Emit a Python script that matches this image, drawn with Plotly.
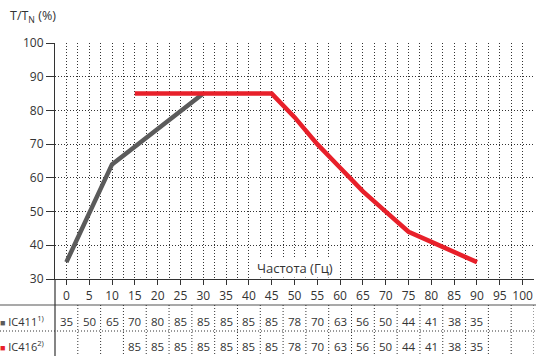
import plotly.graph_objects as go

# ---- data ----
freq_ticks = [0, 5, 10, 15, 20, 25, 30, 35, 40, 45, 50, 55, 60, 65, 70, 75, 80, 85, 90, 95, 100]
y_ticks = [30, 40, 50, 60, 70, 80, 90, 100]

# plotted curves
ic411_curve_x = [0, 10, 30]
ic411_curve_y = [35, 64, 85]
ic416_x = [15, 20, 25, 30, 35, 40, 45, 50, 55, 60, 65, 70, 75, 80, 85, 90]
ic416_y = [85, 85, 85, 85, 85, 85, 85, 78, 70, 63, 56, 50, 44, 41, 38, 35]

# table rows
ic411_table_x = [0, 5, 10, 15, 20, 25, 30, 35, 40, 45, 50, 55, 60, 65, 70, 75, 80, 85, 90]
ic411_table_v = [35, 50, 65, 70, 80, 85, 85, 85, 85, 85, 78, 70, 63, 56, 50, 44, 41, 38, 35]
ic416_table_x = ic416_x
ic416_table_v = ic416_y

row_labels = ["IC411<sup>1)</sup>", "IC416<sup>2)</sup>"]
x_title = "Частота (Гц)"
y_title = "T/T<sub>N</sub> (%)"

GRAY = "#5b5b5b"
RED = "#e8202a"
TXT = "#333333"
FONT = "Open Sans"
DOT = "1px,2px"
GRID = "#333333"

W, H = 536, 356
ML, MR, MT, MB = 55, 2, 43, 77
PW = W - ML - MR
PH = H - MT - MB


def py2paper(py):
    return (H - MB - py) / PH


def px2paper(px):
    return (px - ML) / PW


fig = go.Figure()
fig.add_trace(go.Scatter(x=ic411_curve_x, y=ic411_curve_y, mode="lines",
                         line=dict(color=GRAY, width=4.5), showlegend=False, hoverinfo="skip"))
fig.add_trace(go.Scatter(x=ic416_x, y=ic416_y, mode="lines",
                         line=dict(color=RED, width=4.5), showlegend=False, hoverinfo="skip"))

shapes = []
# solid line under tick row
shapes.append(dict(type="line", xref="paper", yref="paper", x0=px2paper(0), x1=px2paper(W),
                   y0=py2paper(305), y1=py2paper(305), line=dict(color="#555", width=1.2)))
# dotted row separator
shapes.append(dict(type="line", xref="paper", yref="paper", x0=px2paper(0), x1=px2paper(W),
                   y0=py2paper(331), y1=py2paper(331), line=dict(color=GRID, width=1, dash=DOT)))
# y axis line continues down
shapes.append(dict(type="line", xref="paper", yref="paper", x0=0, x1=0,
                   y0=0, y1=py2paper(H + 2), line=dict(color="#333", width=1.2)))
# table column separators
for t in freq_ticks:
    shapes.append(dict(type="line", xref="x", yref="paper", x0=t + 2.5, x1=t + 2.5,
                       y0=py2paper(305), y1=py2paper(H + 2), line=dict(color=GRID, width=1, dash=DOT)))

annotations = []
row_y = [py2paper(321), py2paper(346)]
for xs, vs, ry in [(ic411_table_x, ic411_table_v, row_y[0]), (ic416_table_x, ic416_table_v, row_y[1])]:
    for xv, v in zip(xs, vs):
        annotations.append(dict(x=xv, y=ry, xref="x", yref="paper", text=str(v), showarrow=False,
                                font=dict(size=11.5, color=TXT, family=FONT), xanchor="center", yanchor="middle"))
for lab, col, ry in [(row_labels[0], GRAY, row_y[0]), (row_labels[1], RED, row_y[1])]:
    annotations.append(dict(x=px2paper(-2), y=ry, xref="paper", yref="paper",
                            text=f"<span style='color:{col};font-size:9px'>■</span> {lab}",
                            showarrow=False, font=dict(size=11, color=TXT, family=FONT),
                            xanchor="left", yanchor="middle"))
annotations.append(dict(x=50, y=33.4, xref="x", yref="y", text=x_title, showarrow=False,
                        bgcolor="white", font=dict(size=13, color=TXT, family=FONT),
                        xanchor="center", yanchor="middle", borderpad=0))
annotations.append(dict(x=px2paper(8), y=py2paper(16), xref="paper", yref="paper", text=y_title,
                        showarrow=False, font=dict(size=12.5, color=TXT, family=FONT),
                        xanchor="left", yanchor="middle"))

fig.update_layout(
    width=W, height=H, margin=dict(l=ML, r=MR, t=MT, b=MB),
    paper_bgcolor="white", plot_bgcolor="white",
    font=dict(family=FONT, size=11, color=TXT),
    shapes=shapes, annotations=annotations, showlegend=False,
    xaxis=dict(range=[-2.5, 102.5], tickvals=freq_ticks, ticktext=[str(t) for t in freq_ticks],
               showgrid=True, gridcolor=GRID, griddash=DOT, gridwidth=1,
               minor=dict(dtick=2.5, tick0=0, showgrid=True, gridcolor=GRID, griddash=DOT, gridwidth=1),
               showline=True, linecolor="#333", linewidth=1.2,
               ticks="outside", ticklen=5, tickcolor="#333", tickfont=dict(size=12, color=TXT),
               zeroline=False, fixedrange=True),
    yaxis=dict(range=[30, 100], tickvals=y_ticks, ticktext=[str(t) for t in y_ticks],
               showgrid=True, gridcolor=GRID, griddash=DOT, gridwidth=1,
               showline=True, linecolor="#333", linewidth=1.2,
               ticks="outside", ticklen=8, tickcolor="#333", tickfont=dict(size=12, color=TXT),
               zeroline=False, fixedrange=True),
)

fig.write_html("out.html", config={"displayModeBar": False},
               post_script="document.body.style.margin='0px';document.body.style.overflow='hidden';")
